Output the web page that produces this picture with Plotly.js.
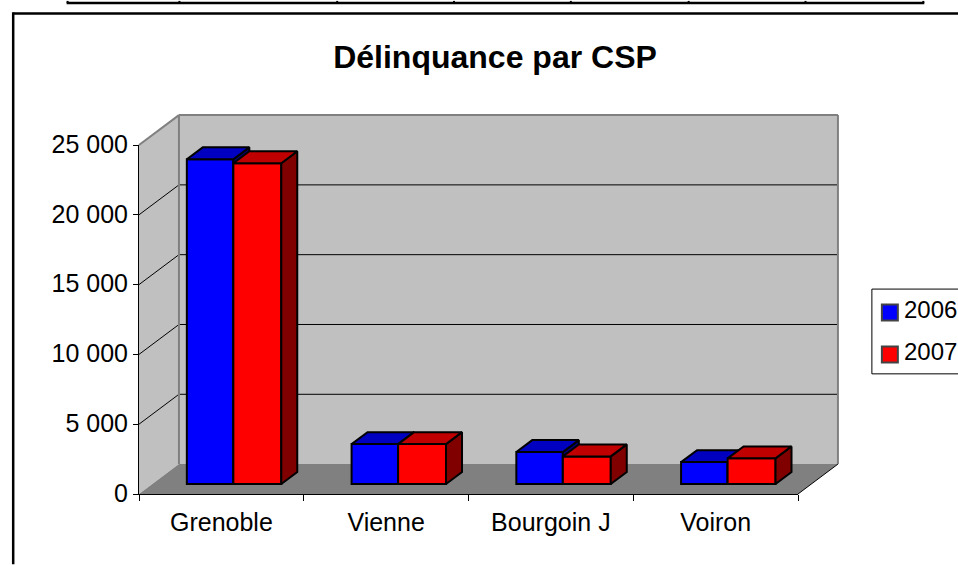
<!DOCTYPE html>
<html><head><meta charset="utf-8">
<script src="https://cdn.plot.ly/plotly-3.0.1.min.js"></script>
<style>html,body{margin:0;padding:0;background:#fff;overflow:hidden}#c{width:1000px;height:565px}</style>
</head><body><div id="c"></div>
<script>
// ---- data ----
const categories = ['Grenoble', 'Vienne', 'Bourgoin J', 'Voiron'];
const seriesNames = ['2006', '2007'];
const values2006 = [23260, 2860, 2290, 1570];
const values2007 = [22980, 2860, 1980, 1840];
const yTickVals = [0, 5000, 10000, 15000, 20000, 25000];
const yTickText = ['0', '5 000', '10 000', '15 000', '20 000', '25 000'];
const tableColumnEdges = [67, 179, 337, 454, 571, 689, 806, 924];

// ---- page geometry (pixels) ----
const W = 1000, H = 565;
const L = 138.5, R = 798.5, T = 144.5, B = 494.5;
const catPx = (R - L) / categories.length;
const unitsPerPx = 25000 / (B - T);
const px = x => (x - L) / (R - L), py = y => (B - y) / (B - T);      // page px -> paper (plot area fractions)
const wallDX = 40, wallDY = 30;                  // depth of the chart box
const barDX = 16, barDY = 12;                    // depth of each bar
const floorLift = 10 * unitsPerPx;               // bars stand inside the floor
const depthX = barDX / catPx, depthY = barDY * unitsPerPx;
const COL = {
  s06: {front: '#0000FF', top: '#0000C0', side: '#000080'},
  s07: {front: '#FF0000', top: '#C00000', side: '#800000'}
};
const offs = {s06: -34.6 / catPx, s07: 12 / catPx};
const wid  = {s06: 46.6 / catPx, s07: 48 / catPx};
const edge = 2;

function faces(vals, key, which) {
  const xs = [], ys = [];
  vals.forEach((v, i) => {
    const x0 = i + offs[key], x1 = x0 + wid[key];
    const top = floorLift + v, bot = floorLift;
    if (which === 'top') {
      xs.push(x0, x0 + depthX, x1 + depthX, x1, x0, null);
      ys.push(top, top + depthY, top + depthY, top, top, null);
    } else {
      xs.push(x1, x1 + depthX, x1 + depthX, x1, x1, null);
      ys.push(top, top + depthY, bot + depthY, bot, top, null);
    }
  });
  return {x: xs, y: ys};
}
function bar(vals, key, name, xa, ya) {
  return {type: 'bar', name: name, x: categories.map((_, i) => i), y: vals, base: floorLift,
    offset: offs[key], width: wid[key], xaxis: xa, yaxis: ya, showlegend: false,
    marker: {color: COL[key].front, line: {color: '#000', width: edge}},
    text: categories, hovertemplate: '%{text}: %{y}<extra>' + name + '</extra>', textposition: 'none'};
}
function face(vals, key, which, xa, ya) {
  const f = faces(vals, key, which);
  return {type: 'scatter', mode: 'lines', x: f.x, y: f.y, xaxis: xa, yaxis: ya, fill: 'toself',
    fillcolor: COL[key][which], line: {color: '#000', width: edge}, hoverinfo: 'skip',
    showlegend: false, connectgaps: false};
}
const traces = [
  bar(values2006, 's06', seriesNames[0], 'x', 'y'),
  face(values2006, 's06', 'side', 'x', 'y'),
  face(values2006, 's06', 'top', 'x', 'y'),
  bar(values2007, 's07', seriesNames[1], 'x2', 'y2'),
  face(values2007, 's07', 'side', 'x2', 'y2'),
  face(values2007, 's07', 'top', 'x2', 'y2')
];

// ---- decoration drawn in page space ----
function poly(points, fill, line, lw, layer) {
  const p = points.map((q, i) => (i ? 'L' : 'M') + px(q[0]) + ',' + py(q[1])).join(' ') + ' Z';
  return {type: 'path', xref: 'paper', yref: 'paper', path: p, fillcolor: fill,
    line: {color: line || 'rgba(0,0,0,0)', width: lw || 0}, layer: layer || 'below'};
}
function seg(x0, y0, x1, y1, color, w, layer) {
  return {type: 'line', xref: 'paper', yref: 'paper', x0: px(x0), y0: py(y0), x1: px(x1), y1: py(y1),
    line: {color: color, width: w}, layer: layer || 'below'};
}
const tickY = v => B - v / unitsPerPx;
const shapes = [
  // back wall, side wall, floor
  poly([[L + wallDX, T - wallDY], [R + wallDX, T - wallDY], [R + wallDX, B - wallDY], [L + wallDX, B - wallDY]], '#C0C0C0'),
  poly([[L, T], [L + wallDX, T - wallDY], [L + wallDX, B - wallDY], [L, B]], '#C0C0C0'),
  poly([[L, B], [L + wallDX, B - wallDY], [R + wallDX, B - wallDY], [R, B]], '#808080')
];
yTickVals.slice(1, 5).forEach(v => {
  shapes.push(seg(L, tickY(v), L + wallDX, tickY(v) - wallDY, '#000', 1));
  shapes.push(seg(L + wallDX, tickY(v) - wallDY, R + wallDX, tickY(v) - wallDY, '#000', 1));
});
shapes.push(
  seg(L, T, L + wallDX, T - wallDY, '#808080', 2),
  seg(L + wallDX, T - wallDY, R + wallDX, T - wallDY, '#808080', 2),
  seg(L + wallDX, T - wallDY, L + wallDX, B - wallDY, '#808080', 2),
  seg(R + wallDX, T - wallDY, R + wallDX, B - wallDY, '#808080', 2),
  seg(R, B, R + wallDX, B - wallDY, '#000', 1)
);
// chart frame and the table strip above it
shapes.push(seg(12.5, 12.5, W, 12.5, '#000', 2.5), seg(12.5, 11.3, 12.5, H, '#000', 2.5));
shapes.push(seg(tableColumnEdges[0] - 1, 2, tableColumnEdges[7] + 1, 2, '#000', 2.5));
tableColumnEdges.forEach(x => shapes.push(seg(x, 0, x, 2, '#000', 2)));
// legend
const lgLeft = 872.5, lgTop = 289, lgBottom = 374;
shapes.push(poly([[lgLeft, lgTop], [W + 20, lgTop], [W + 20, lgBottom], [lgLeft, lgBottom]], '#fff', '#000', 1));
const swatchY = [304.5, 346.5];
const legendTextY = [309.5, 351.5];
const swatchCols = [COL.s06.front, COL.s07.front];
swatchY.forEach((y, i) => {
  shapes.push(poly([[882.5, y], [898.5, y], [898.5, y + 16], [882.5, y + 16]], swatchCols[i], '#444', 2));
});
const annotations = seriesNames.map((n, i) => ({
  text: n, xref: 'paper', yref: 'paper', x: px(903), y: py(legendTextY[i]), xanchor: 'left', yanchor: 'middle',
  showarrow: false, font: {size: 24, color: '#000'}
}));

const layout = {
  width: W, height: H, autosize: false,
  margin: {l: L, r: W - R, t: T, b: H - B, pad: 0},
  paper_bgcolor: '#fff', plot_bgcolor: 'rgba(0,0,0,0)',
  font: {family: '"Liberation Sans", Arial, sans-serif', size: 25, color: '#000'},
  title: {text: 'Délinquance par CSP', font: {size: 32, weight: 700, color: '#000'},
          x: 495 / W, xanchor: 'center', xref: 'container', y: 1 - 57 / H, yanchor: 'middle', yref: 'container'},
  barmode: 'overlay', showlegend: false, hovermode: 'closest',
  xaxis: {type: 'linear', range: [-0.5, 3.5], tickmode: 'array', tickvals: categories.map((_, i) => i),
          ticktext: categories, ticks: 'outside', ticklen: 6, tickcolor: 'rgba(0,0,0,0)',
          showgrid: false, zeroline: false, showline: true, linecolor: '#000', linewidth: 1,
          tickfont: {size: 25}, fixedrange: true},
  yaxis: {range: [0, 25000], tickmode: 'array', tickvals: yTickVals, ticktext: yTickText,
          ticks: 'outside', ticklen: 5, tickcolor: '#000', tickwidth: 1, showgrid: false, zeroline: false,
          showline: true, linecolor: '#000', linewidth: 1, tickfont: {size: 25}, ticklabelshift: -1, fixedrange: true},
  xaxis2: {type: 'linear', overlaying: 'x', anchor: 'y2', range: [-0.5, 3.5], tickmode: 'array',
           tickvals: [-0.5, 0.5, 1.5, 2.5, 3.5], ticktext: ['', '', '', '', ''], ticks: 'outside', ticklen: 6,
           tickcolor: '#000', tickwidth: 1, showgrid: false, zeroline: false, side: 'bottom', fixedrange: true},
  yaxis2: {overlaying: 'y', anchor: 'x2', range: [0, 25000], showticklabels: false, ticks: '', showgrid: false,
           zeroline: false, showline: false, fixedrange: true},
  shapes: shapes, annotations: annotations
};
Plotly.newPlot('c', traces, layout, {displayModeBar: false, responsive: false});
</script></body></html>
